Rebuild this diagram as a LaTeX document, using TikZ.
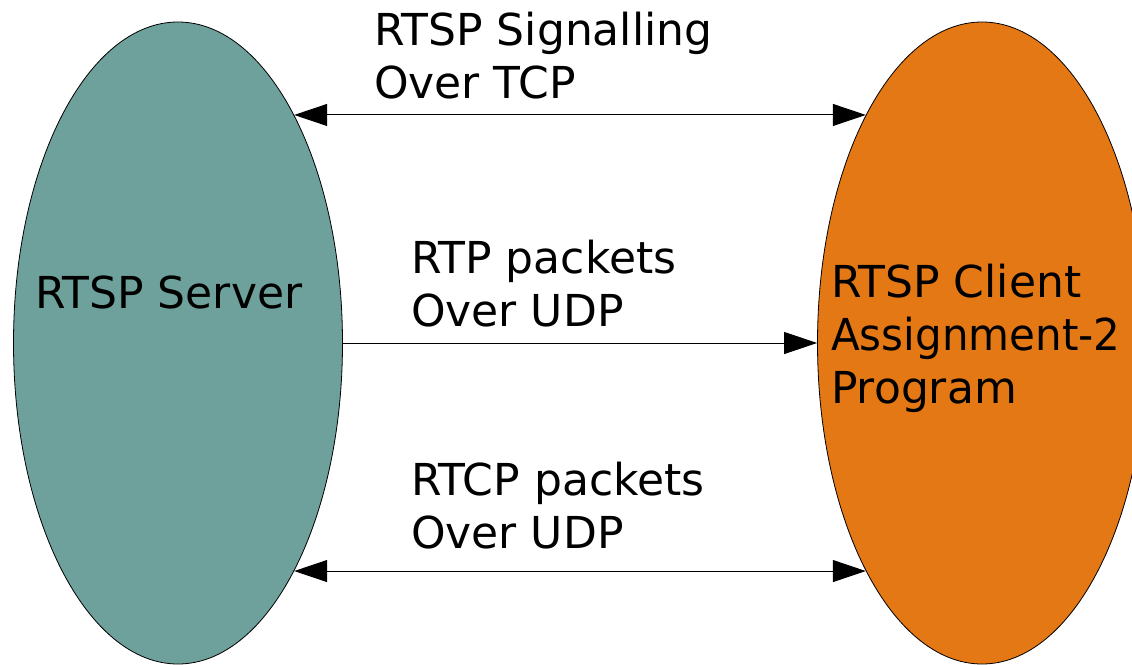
\documentclass[tikz,border=0pt]{standalone}
\usepackage{fontspec}
\setmainfont{DejaVu Sans}
\usetikzlibrary{arrows.meta,shapes.geometric}
\definecolor{serverfill}{RGB}{110,161,155}
\definecolor{clientfill}{RGB}{228,120,20}
\tikzset{
  blob/.style={ellipse, draw=black, line width=0.8pt, inner sep=0pt,
    minimum width=329pt, minimum height=642pt},
  lbl/.style={anchor=base west, inner sep=0pt, font=\fontsize{44}{53}\selectfont},
  arr/.style={line width=1pt, draw=black,
    arrows={-Triangle[length=33pt,width=22pt]}},
  darr/.style={line width=1pt, draw=black,
    arrows={Triangle[length=33pt,width=22pt]-Triangle[length=33pt,width=22pt]}}
}
\begin{document}
\begin{tikzpicture}[x=1pt,y=-1pt]
\useasboundingbox (0,0) rectangle (1132,664);
\clip (0,0) rectangle (1132,664);
\fill[white] (0,0) rectangle (1132,664);
\node[blob, fill=serverfill] (srv) at (178,343) {};
\node[blob, fill=clientfill] (cli) at (982,343) {};
\draw[darr] (srv.63) -- (cli.117);
\draw[arr] (srv.east) -- (cli.west);
\draw[darr] (srv.-63) -- (cli.-117);
\node[lbl] (sig1) at (374,45) {RTSP Signalling};
\node[lbl] (sig2) at (374,98) {Over TCP};
\node[lbl] (rtp1) at (411,273) {RTP packets};
\node[lbl] (rtp2) at (411,326) {Over UDP};
\node[lbl] (rtcp1) at (411,495) {RTCP packets};
\node[lbl] (rtcp2) at (411,548) {Over UDP};
\node[lbl] (srvt) at (35,308) {RTSP Server};
\node[lbl] (cli1) at (831,297) {RTSP Client};
\node[lbl] (cli2) at (831,350) {\addfontfeature{FakeStretch=0.955}Assignment-2};
\node[lbl] (cli3) at (831,403) {Program};
\end{tikzpicture}
\end{document}
